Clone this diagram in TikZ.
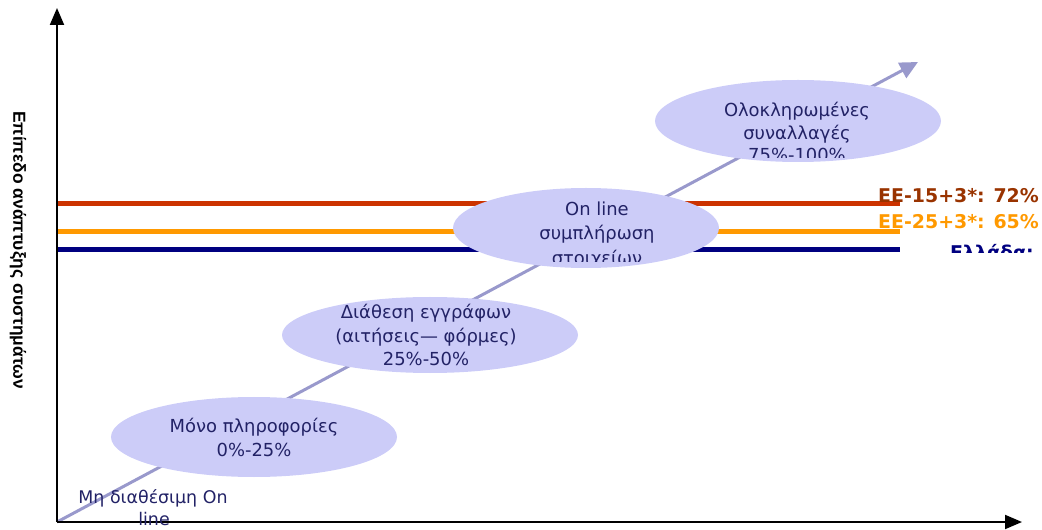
\documentclass[tikz,border=0pt]{standalone}
\usepackage{fontspec}
\setmainfont{DejaVu Sans}
\newfontfamily\axisfont{Liberation Sans}
\usetikzlibrary{arrows.meta,shapes.geometric}

\definecolor{levelRed}{HTML}{CC3300}
\definecolor{labelRed}{HTML}{993300}
\definecolor{levelOrange}{HTML}{FF9900}
\definecolor{levelNavy}{HTML}{000080}
\definecolor{growthBlue}{HTML}{9999CC}
\definecolor{bubbleFill}{HTML}{CCCCF8}
\definecolor{bubbleText}{HTML}{222266}

\tikzset{
  axisline/.style={line width=2bp, black, -{Triangle[length=17bp,width=14bp]}},
  levelline/.style={line width=5bp},
  growth/.style={line width=3bp, growthBlue, -{Triangle[length=18bp,width=17bp]}},
  bubble/.style={ellipse, fill=bubbleFill, draw=none, inner sep=0pt},
  bubbletext/.style={anchor=base, inner sep=0pt, text=bubbleText,
    font=\fontsize{18}{21}\selectfont},
  levellabel/.style={anchor=base west, inner sep=0pt,
    font=\bfseries\fontsize{19}{22}\selectfont},
  starttext/.style={anchor=base, inner sep=0pt, text=bubbleText,
    font=\fontsize{17.5}{20}\selectfont},
}

\begin{document}
\begin{tikzpicture}[x=1bp,y=-1bp]
\useasboundingbox (0,0) rectangle (1042,530);

% axes end points
\coordinate (O) at (57,522);
\coordinate (ytop) at (57,8);
\coordinate (xend) at (1022,522);
\coordinate (gtip) at (918,62);

% horizontal level lines
\coordinate (r0) at (57,204);  \coordinate (r1) at (900,204);
\coordinate (o0) at (57,232);  \coordinate (o1) at (900,232);
\coordinate (n0) at (57,250);  \coordinate (n1) at (900,250);
\draw[levelline, levelRed] (r0) -- (r1);
\draw[levelline, levelOrange] (o0) -- (o1);
\draw[levelline, levelNavy] (n0) -- (n1);

% growth diagonal
\draw[growth] (O) -- (gtip);

% stage ellipses
\node[bubble, minimum width=286bp, minimum height=80bp] (e1) at (254,437) {};
\node[bubble, minimum width=296bp, minimum height=76bp] (e2) at (430,335) {};
\node[bubble, minimum width=266bp, minimum height=80bp] (e3) at (586,228) {};
\node[bubble, minimum width=286bp, minimum height=82bp] (e4) at (798,121) {};

% ellipse texts
\node[bubbletext] (t1a) at (254,432) {Μόνο πληροφορίες};
\node[bubbletext] (t1b) at (254,456) {0\%-25\%};

\node[bubbletext] (t2a) at (426,319) {Διάθεση εγγράφων};
\node[bubbletext] (t2b) at (426,343) {(αιτήσεις— φόρμες)};
\node[bubbletext] (t2c) at (426,366) {25\%-50\%};

\node[bubbletext] (t3a) at (597,216) {On line};
\node[bubbletext] (t3b) at (597,240) {συμπλήρωση};
\begin{scope}
  \clip (0,0) rectangle (1042,262);
  \node[bubbletext] (t3c) at (597,265) {στοιχείων};
\end{scope}

\node[bubbletext] (t4a) at (797,117) {Ολοκληρωμένες};
\node[bubbletext] (t4b) at (797,140) {συναλλαγές};
\begin{scope}
  \clip (0,0) rectangle (1042,158);
  \node[bubbletext] (t4c) at (797,162) {75\%-100\%};
\end{scope}

% level labels
\node[levellabel, text=labelRed] (lr) at (878,203) {EE-15+3*: 72\%};
\node[levellabel, text=levelOrange] (lo) at (878,229) {EE-25+3*: 65\%};
\begin{scope}
  \clip (0,0) rectangle (1042,253);
  \node[levellabel, text=levelNavy] (ln) at (950,260) {Ελλάδα:};
\end{scope}

% axes
\draw[axisline] (O) -- (ytop);
\draw[axisline] (O) -- (xend);

% axis captions
\node[rotate=-90, inner sep=0pt, font=\axisfont\bfseries\fontsize{17.5}{20}\selectfont] (ylab) at (18,250)
  {Επίπεδο ανάπτυξης συστημάτων};
\node[starttext] (s0a) at (153,503) {Μη διαθέσιμη On};
\node[starttext] (s0b) at (154,525) {line};
\end{tikzpicture}
\end{document}
